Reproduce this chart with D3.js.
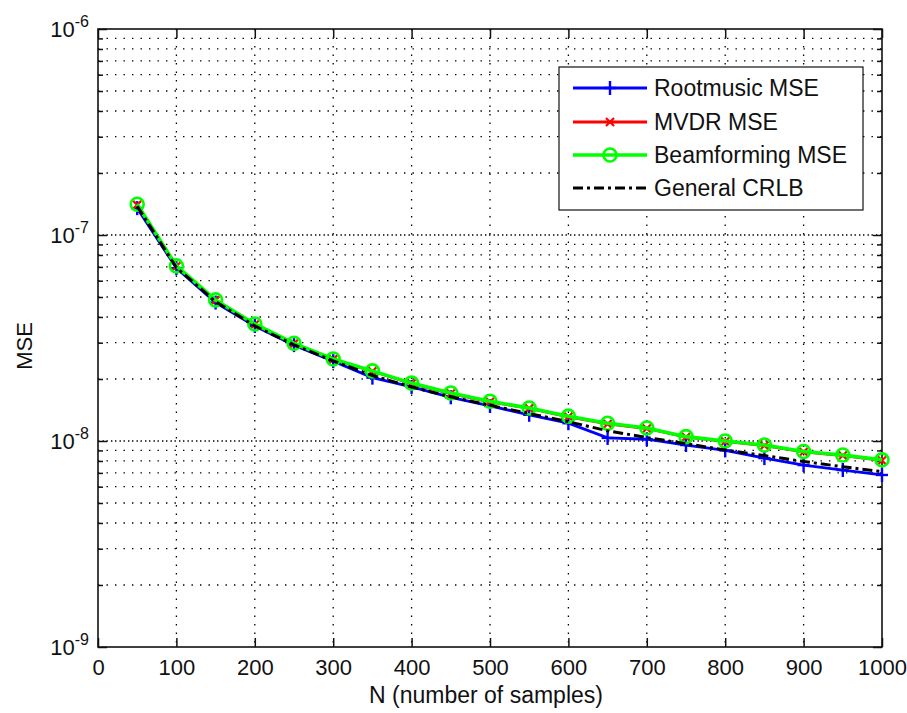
<!DOCTYPE html>
<html>
<head>
<meta charset="utf-8">
<script src="https://cdn.jsdelivr.net/npm/d3@7"></script>
<style>
  body { margin: 0; background: #fff; }
  text { font-family: Arial, "Liberation Sans", sans-serif; fill: #111; }
</style>
</head>
<body>
<div id="chart"></div>
<script>
// sample counts
const samples = [50, 100, 150, 200, 250, 300, 350, 400, 450, 500,
                 550, 600, 650, 700, 750, 800, 850, 900, 950, 1000];

// MSE values
const rootmusic = [1.35e-7, 6.9e-8, 4.7e-8, 3.62e-8, 2.92e-8, 2.44e-8, 2.03e-8, 1.83e-8, 1.63e-8, 1.48e-8,
                   1.34e-8, 1.22e-8, 1.035e-8, 1.02e-8, 9.56e-9, 9.0e-9, 8.26e-9, 7.64e-9, 7.23e-9, 6.84e-9];
const mvdr = [1.40e-7, 7.05e-8, 4.82e-8, 3.68e-8, 2.97e-8, 2.49e-8, 2.18e-8, 1.90e-8, 1.70e-8, 1.55e-8,
              1.44e-8, 1.31e-8, 1.21e-8, 1.15e-8, 1.045e-8, 9.95e-9, 9.5e-9, 8.85e-9, 8.5e-9, 8.05e-9];
const beamforming = [1.41e-7, 7.08e-8, 4.84e-8, 3.70e-8, 2.98e-8, 2.50e-8, 2.19e-8, 1.91e-8, 1.71e-8, 1.56e-8,
                     1.445e-8, 1.32e-8, 1.22e-8, 1.156e-8, 1.05e-8, 1.0e-8, 9.56e-9, 8.9e-9, 8.55e-9, 8.1e-9];
const crlb = [1.38e-7, 6.95e-8, 4.75e-8, 3.62e-8, 2.93e-8, 2.45e-8, 2.08e-8, 1.83e-8, 1.64e-8, 1.49e-8,
              1.36e-8, 1.24e-8, 1.12e-8, 1.04e-8, 9.7e-9, 9.05e-9, 8.5e-9, 7.95e-9, 7.5e-9, 7.1e-9];

// tick labels
const xTicks = [0, 100, 200, 300, 400, 500, 600, 700, 800, 900, 1000];
const yDecades = [-9, -8, -7, -6];
const legendNames = ["Rootmusic MSE", "MVDR MSE", "Beamforming MSE", "General CRLB"];

const width = 907, height = 713;
const plot = {left: 98, right: 882, top: 29, bottom: 647};

const svg = d3.select("#chart")
  .append("svg")
    .attr("width", width)
    .attr("height", height);

const x = d3.scaleLinear().domain([0, 1000]).range([plot.left, plot.right]);
const y = d3.scaleLog().domain([1e-9, 1e-6]).range([plot.bottom, plot.top]);

// minor values 2..9 in each decade
const minorVals = [];
for (let d = -9; d < -6; d++) {
  for (let k = 2; k <= 9; k++) minorVals.push(k * Math.pow(10, d));
}
const majorVals = yDecades.map(d => Math.pow(10, d));

// grid
const grid = svg.append("g").attr("stroke", "#000").attr("stroke-width", 1.3).attr("fill", "none");
grid.selectAll(".gx")
  .data(xTicks.slice(1, -1))
  .enter().append("line")
  .attr("x1", d => x(d)).attr("x2", d => x(d))
  .attr("y1", plot.top).attr("y2", plot.bottom)
  .attr("stroke-dasharray", "1.4,7.1");
grid.selectAll(".gy")
  .data(minorVals.concat(majorVals.slice(1, -1)))
  .enter().append("line")
  .attr("x1", plot.left).attr("x2", plot.right)
  .attr("y1", d => y(d)).attr("y2", d => y(d))
  .attr("stroke-dasharray", "1.4,7.1");
// decade lines look denser (major + minor grid overlap)
grid.selectAll(".gy2")
  .data(majorVals.slice(1, -1))
  .enter().append("line")
  .attr("x1", plot.left).attr("x2", plot.right)
  .attr("y1", d => y(d)).attr("y2", d => y(d))
  .attr("stroke-dasharray", "1.4,7.1")
  .attr("stroke-dashoffset", 4);

// axes
const fontSize = 22;
const xAxis = svg.append("g")
  .attr("transform", `translate(0,${plot.bottom})`)
  .call(d3.axisBottom(x).tickValues(xTicks).tickSizeInner(-9).tickSizeOuter(0).tickPadding(12).tickFormat(d3.format("d")));
const xTop = svg.append("g")
  .attr("transform", `translate(0,${plot.top})`)
  .call(d3.axisTop(x).tickValues(xTicks).tickSizeInner(-9).tickSizeOuter(0).tickFormat(""));
const yAxis = svg.append("g")
  .attr("transform", `translate(${plot.left},0)`)
  .call(d3.axisLeft(y).tickValues(majorVals).tickSizeInner(-9).tickSizeOuter(0).tickPadding(9).tickFormat(""));
const yMinor = svg.append("g")
  .attr("transform", `translate(${plot.left},0)`)
  .call(d3.axisLeft(y).tickValues(minorVals).tickSizeInner(-5).tickSizeOuter(0).tickFormat(""));
const yRight = svg.append("g")
  .attr("transform", `translate(${plot.right},0)`)
  .call(d3.axisRight(y).tickValues(majorVals).tickSizeInner(-9).tickSizeOuter(0).tickFormat(""));
const yRightMinor = svg.append("g")
  .attr("transform", `translate(${plot.right},0)`)
  .call(d3.axisRight(y).tickValues(minorVals).tickSizeInner(-5).tickSizeOuter(0).tickFormat(""));

[xAxis, xTop, yAxis, yMinor, yRight, yRightMinor].forEach(g => {
  g.select(".domain").remove();
  g.selectAll(".tick line").attr("stroke", "#111").attr("stroke-width", 1.5);
});
xAxis.selectAll("text")
  .attr("font-size", fontSize)
  .attr("font-family", "Arial, 'Liberation Sans', sans-serif")
  .attr("fill", "#111");

// y labels as 10^n
yAxis.selectAll(".tick text")
  .attr("font-size", fontSize)
  .attr("font-family", "Arial, 'Liberation Sans', sans-serif")
  .attr("fill", "#111")
  .each(function(d) {
    const t = d3.select(this);
    t.text(null);
    t.append("tspan").text("10");
    t.append("tspan").attr("dy", "-0.6em").attr("font-size", 16).text(String(Math.round(Math.log10(d))));
  });

// frame
svg.append("rect")
  .attr("x", plot.left).attr("y", plot.top)
  .attr("width", plot.right - plot.left).attr("height", plot.bottom - plot.top)
  .attr("fill", "none").attr("stroke", "#111").attr("stroke-width", 1.6);

// series
const series = [
  {name: legendNames[0], values: rootmusic, color: "#0000ff", width: 2.8, marker: "plus"},
  {name: legendNames[1], values: mvdr, color: "#ff0000", width: 2.8, marker: "cross"},
  {name: legendNames[2], values: beamforming, color: "#00ff00", width: 3.6, marker: "circle"},
  {name: legendNames[3], values: crlb, color: "#000000", width: 3, marker: null, dash: "10,4,3,4"}
];

const line = d3.line()
  .x((d, i) => x(samples[i]))
  .y(d => y(d));

function drawMarker(g, type, cx, cy, color) {
  if (type === "plus") {
    g.append("line").attr("x1", cx - 6).attr("x2", cx + 6).attr("y1", cy).attr("y2", cy)
      .attr("stroke", color).attr("stroke-width", 2.4);
    g.append("line").attr("x1", cx).attr("x2", cx).attr("y1", cy - 7).attr("y2", cy + 7)
      .attr("stroke", color).attr("stroke-width", 2.4);
  } else if (type === "cross") {
    g.append("path").attr("d", `M${cx - 4},${cy - 4}L${cx + 4},${cy + 4}M${cx - 4},${cy + 4}L${cx + 4},${cy - 4}`)
      .attr("stroke", color).attr("stroke-width", 2.2).attr("fill", "none");
  } else if (type === "circle") {
    g.append("circle").attr("cx", cx).attr("cy", cy).attr("r", 6.5)
      .attr("stroke", color).attr("stroke-width", 2.6).attr("fill", "none");
  }
}

series.forEach(s => {
  const g = svg.append("g");
  g.append("path")
    .datum(s.values)
    .attr("d", line)
    .attr("fill", "none")
    .attr("stroke", s.color)
    .attr("stroke-width", s.width)
    .attr("stroke-dasharray", s.dash || null);
  if (s.marker) {
    s.values.forEach((v, i) => drawMarker(g, s.marker, x(samples[i]), y(v), s.color));
  }
});

// legend
const legend = svg.append("g");
legend.append("rect")
  .attr("x", 559).attr("y", 67).attr("width", 304).attr("height", 143)
  .attr("fill", "#fff").attr("stroke", "#111").attr("stroke-width", 1.2);
const rowY = [88, 122, 155, 188];
series.forEach((s, i) => {
  const ly = rowY[i];
  legend.append("line")
    .attr("x1", 573).attr("x2", 647).attr("y1", ly).attr("y2", ly)
    .attr("stroke", s.color).attr("stroke-width", s.width)
    .attr("stroke-dasharray", s.dash || null);
  if (s.marker) drawMarker(legend, s.marker, 610, ly, s.color);
  legend.append("text")
    .attr("x", 654).attr("y", ly)
    .attr("dy", "0.36em")
    .attr("font-size", 23)
    .text(s.name);
});

// axis titles
svg.append("text")
  .attr("x", 486).attr("y", 703)
  .attr("text-anchor", "middle")
  .attr("font-size", 23)
  .text("N (number of samples)");
svg.append("text")
  .attr("transform", "translate(32,346) rotate(-90)")
  .attr("text-anchor", "middle")
  .attr("font-size", 22)
  .text("MSE");
</script>
</body>
</html>
